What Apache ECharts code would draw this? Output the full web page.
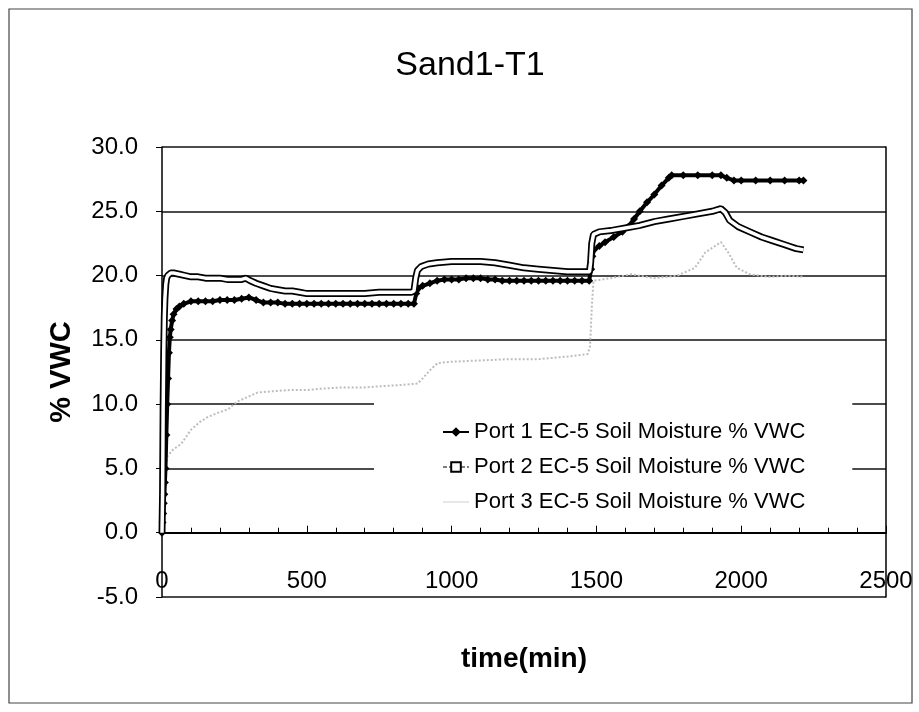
<!DOCTYPE html>
<html><head><meta charset="utf-8">
<script src="https://cdn.jsdelivr.net/npm/echarts@6/dist/echarts.min.js"></script>
<style>html,body{margin:0;padding:0;background:#fff}#c{width:919px;height:712px}</style>
</head><body><div id="c"></div>
<script>
const titleText = 'Sand1-T1';
const xName = 'time(min)';
const yName = '% VWC';
const seriesNames = ['Port 1 EC-5 Soil Moisture % VWC','Port 2 EC-5 Soil Moisture % VWC','Port 3 EC-5 Soil Moisture % VWC'];
const yTicks = [-5, 30, 5];
const xTicks = [0, 2500, 500];

const port1T = [0,2,4,6,8,10,12,15,18,21,24,27,30,35,40,50,60,75,100,125,150,175,200,225,250,275,300,325,350,375,400,425,450,475,500,525,550,575,600,625,650,675,700,725,750,775,800,825,850,870,878,885,900,925,950,975,1000,1025,1050,1075,1100,1125,1150,1175,1200,1225,1250,1275,1300,1325,1350,1375,1400,1425,1450,1475,1482,1486,1492,1510,1530,1560,1590,1610,1630,1650,1675,1700,1725,1750,1760,1800,1850,1900,1930,1950,1975,2000,2050,2100,2150,2200,2215];
const port1V = [0.0,0.8,1.5,2.3,3.0,3.9,5.0,7.6,10.0,12.0,14.0,15.2,15.8,16.5,17.0,17.4,17.6,17.8,18.0,18.0,18.0,18.0,18.1,18.1,18.1,18.2,18.3,18.1,17.9,17.9,17.9,17.8,17.8,17.8,17.8,17.8,17.8,17.8,17.8,17.8,17.8,17.8,17.8,17.8,17.8,17.8,17.8,17.8,17.8,17.8,18.6,19.0,19.2,19.4,19.6,19.7,19.7,19.7,19.8,19.8,19.8,19.7,19.7,19.6,19.6,19.6,19.6,19.6,19.6,19.6,19.6,19.6,19.6,19.6,19.6,19.6,20.5,21.5,22.0,22.3,22.6,23.0,23.4,23.8,24.4,25.0,25.7,26.3,27.0,27.6,27.8,27.8,27.8,27.8,27.8,27.6,27.4,27.4,27.4,27.4,27.4,27.4,27.4];

const port2T = [0,2,4,6,8,10,13,16,20,30,40,60,80,100,125,150,175,200,225,250,275,290,305,325,350,375,400,425,450,475,500,550,600,650,700,750,800,860,870,876,882,895,920,950,1000,1050,1100,1150,1175,1200,1250,1300,1350,1400,1450,1476,1480,1484,1490,1510,1550,1600,1650,1700,1750,1800,1850,1900,1930,1945,1960,1990,2030,2070,2110,2150,2190,2215];
const port2V = [0.0,3.0,9.7,14.0,16.8,18.2,19.3,19.8,20.0,20.2,20.2,20.1,20.0,19.9,19.9,19.8,19.8,19.8,19.7,19.7,19.7,19.8,19.6,19.4,19.2,19.0,18.9,18.8,18.8,18.7,18.6,18.6,18.6,18.6,18.6,18.7,18.7,18.7,18.8,19.8,20.4,20.7,20.9,21.0,21.1,21.1,21.1,21.0,20.9,20.8,20.6,20.5,20.4,20.3,20.3,20.3,21.0,22.5,23.2,23.4,23.5,23.7,23.9,24.2,24.4,24.6,24.8,25.0,25.2,24.9,24.3,23.8,23.4,23.0,22.7,22.4,22.1,22.0];

const port3T = [0,5,10,20,40,66,100,130,158,190,228,260,300,330,380,445,500,550,617,700,760,830,883,900,928,952,1000,1100,1200,1300,1400,1470,1478,1484,1490,1550,1620,1700,1780,1840,1876,1903,1930,1955,1985,2030,2100,2160,2215];
const port3V = [0.0,3.0,5.0,6.0,6.5,6.9,8.0,8.6,9.0,9.3,9.6,10.2,10.6,10.9,11.0,11.1,11.1,11.2,11.3,11.3,11.4,11.5,11.6,12.0,12.7,13.2,13.3,13.4,13.5,13.5,13.7,13.9,14.5,17.5,19.6,19.8,20.1,19.8,20.0,20.6,21.8,22.2,22.6,21.8,20.6,20.1,19.9,20.0,19.9];

function pairs(t, v){ return t.map((x,i)=>[x, v[i]]); }

const chart = echarts.init(document.getElementById('c'));
const FONT = 'Liberation Sans, Arial, sans-serif';
const black = '#000';
const gray3 = '#bdbdbd';
chart.setOption({
  animation:false,
  backgroundColor:'#fff',
  textStyle:{fontFamily:FONT},
  title:{text:titleText,left:465,top:44,textAlign:'center',
    textStyle:{fontSize:34,fontWeight:'normal',color:black,fontFamily:FONT}},
  grid:{left:162,right:33,top:147,bottom:115,containLabel:false,outerBoundsMode:'none'},
  legend:{orient:'vertical',left:374,top:398,padding:[21,47,9,68],
    backgroundColor:'#fff',itemWidth:26,itemHeight:12,itemGap:9,
    data:[{name:seriesNames[0]},
          {name:seriesNames[1],lineStyle:{width:1,color:black,type:'dashed'}},
          {name:seriesNames[2],icon:'path://M0,0H26V1.4H0Z',itemStyle:{color:'#dddddd'}}],
    textStyle:{fontSize:22,color:black,lineHeight:26,fontFamily:FONT}},
  xAxis:[
   {type:'value',min:xTicks[0],max:xTicks[1],interval:xTicks[2],position:'bottom',
    name:xName,nameLocation:'middle',nameGap:48,
    nameTextStyle:{fontSize:28,fontWeight:'bold',color:black,fontFamily:FONT},
    axisLine:{show:false,onZero:false},
    axisTick:{show:false},
    axisLabel:{inside:true,margin:4,fontSize:24,color:black,fontFamily:FONT,formatter:v=>String(v)},
    splitLine:{show:false}},
   {type:'value',min:xTicks[0],max:xTicks[1],interval:xTicks[2],position:'top',
    axisLine:{show:true,onZero:true,lineStyle:{color:black,width:2}},
    axisTick:{show:true,length:7,lineStyle:{color:black}},
    minorTick:{show:true,splitNumber:5,length:5,lineStyle:{color:black}},
    axisLabel:{show:false},splitLine:{show:false}}],
  yAxis:[{type:'value',min:yTicks[0],max:yTicks[1],interval:yTicks[2],
    name:yName,nameLocation:'middle',nameRotate:90,nameGap:86,
    nameTextStyle:{fontSize:29,fontWeight:'bold',color:black,fontFamily:FONT},
    axisLine:{onZero:false,lineStyle:{color:black,width:1.5}},
    axisTick:{length:6,lineStyle:{color:black}},
    axisLabel:{margin:24,fontSize:24,color:black,fontFamily:FONT,formatter:v=>v.toFixed(1)},
    splitLine:{show:true,lineStyle:{color:'#111',width:1.5}}},
   {type:'value',min:yTicks[0],max:yTicks[1],interval:yTicks[2],position:'right',
    axisLine:{show:true,onZero:false,lineStyle:{color:black,width:1.5}},
    axisTick:{show:false},axisLabel:{show:false},splitLine:{show:false}}],
  graphic:[{type:'rect',shape:{x:9,y:9,width:903,height:694},
    style:{fill:'none',stroke:'#444',lineWidth:1.2},silent:true}],
  series:[
    {name:seriesNames[2],type:'line',data:pairs(port3T,port3V),
     symbol:'none',
     lineStyle:{color:gray3,width:2,type:'dotted'},itemStyle:{color:gray3},z:2},
    {name:seriesNames[0],type:'line',data:pairs(port1T,port1V),
     symbol:'diamond',symbolSize:8,showAllSymbol:true,
     lineStyle:{color:black,width:4},itemStyle:{color:black},z:3},
    {name:seriesNames[1],type:'line',data:pairs(port2T,port2V),
     symbol:'rect',symbolSize:5,showSymbol:false,
     lineStyle:{color:black,width:7},itemStyle:{color:'#fff',borderColor:black,borderWidth:1},z:4},
    {name:'port2core',type:'line',data:pairs(port2T,port2V),
     symbol:'none',silent:true,
     lineStyle:{color:'#fff',width:3.5},z:5}
  ]
});
</script></body></html>
